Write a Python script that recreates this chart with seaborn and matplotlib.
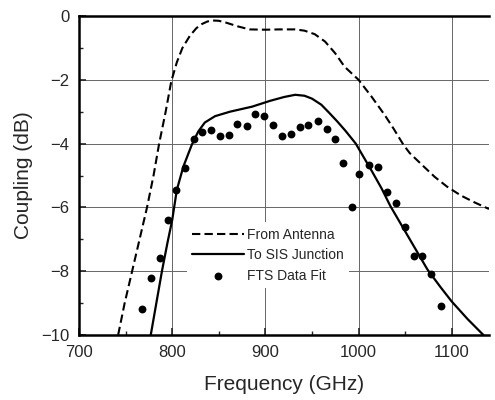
import matplotlib
matplotlib.use('Agg')
from matplotlib import pyplot as plt
from matplotlib.ticker import MultipleLocator
import seaborn as sns

# Coupling from antenna (dashed curve)
antenna_freq = [742, 749, 757, 765, 773, 780, 786, 793, 799, 805, 811, 819, 826, 832,
                838, 843, 850, 858, 871, 883, 900, 915, 932, 942, 953, 964, 975, 985, 1000,
                1014, 1028, 1038, 1048, 1055, 1070, 1082, 1095, 1110, 1125, 1140]
antenna_db = [-10.0, -9.0, -8.0, -7.0, -6.0, -5.0, -4.0, -3.0, -2.05, -1.45, -1.0, -0.62,
              -0.38, -0.25, -0.17, -0.14, -0.15, -0.21, -0.33, -0.42, -0.43, -0.42,
              -0.42, -0.46, -0.57, -0.8, -1.17, -1.59, -2.0, -2.53, -3.1, -3.55, -4.03,
              -4.3, -4.72, -5.05, -5.35, -5.63, -5.85, -6.05]

# Coupling to SIS junction (solid curve)
sis_freq = [777, 783, 789, 795, 800, 805, 812, 821, 828, 835, 846, 862, 886, 905, 920,
            932, 942, 950, 960, 968, 977, 986, 997, 1006, 1015, 1025, 1034, 1049, 1064,
            1074, 1088, 1100, 1117, 1134]
sis_db = [-10.0, -9.0, -8.0, -7.1, -6.4, -5.45, -4.72, -4.04, -3.62, -3.34, -3.14, -3.0,
          -2.84, -2.66, -2.54, -2.47, -2.5, -2.59, -2.78, -3.02, -3.3, -3.6, -4.0, -4.45,
          -4.9, -5.42, -5.95, -6.7, -7.45, -7.95, -8.5, -8.95, -9.5, -10.0]

# FTS measured points
fts_freq = [768, 777, 787, 796, 804, 814, 823, 832, 842, 851, 861, 870, 880, 889, 898,
            908, 918, 928, 937, 946, 956, 966, 975, 983, 993, 1001, 1011, 1021, 1030,
            1040, 1050, 1059, 1068, 1078, 1089]
fts_db = [-9.2, -8.2, -7.6, -6.4, -5.47, -4.75, -3.86, -3.65, -3.57, -3.75, -3.73, -3.39,
          -3.44, -3.07, -3.12, -3.42, -3.77, -3.7, -3.48, -3.43, -3.28, -3.53, -3.85,
          -4.62, -5.99, -4.95, -4.68, -4.74, -5.53, -5.85, -6.6, -7.52, -7.52, -8.1, -9.1]

sns.set_style('ticks')
plt.rcParams['font.family'] = ['Liberation Sans', 'DejaVu Sans']

fig = plt.figure(figsize=(4.95, 4.0), dpi=100)
ax = fig.add_axes([79 / 495, 65 / 400, 410 / 495, 319 / 400])

sns.lineplot(x=antenna_freq, y=antenna_db, ax=ax, color='black', linewidth=1.5,
             linestyle=(0, (4, 2)), label='From Antenna')
sns.lineplot(x=sis_freq, y=sis_db, ax=ax, color='black', linewidth=1.6,
             label='To SIS Junction')
sns.scatterplot(x=fts_freq, y=fts_db, ax=ax, color='black', s=32, edgecolor='black',
                linewidth=0, label='FTS Data Fit', zorder=3)

ax.set_xlim(700, 1140)
ax.set_ylim(-10, 0)
ax.xaxis.set_major_locator(MultipleLocator(100))
ax.xaxis.set_minor_locator(MultipleLocator(50))
ax.yaxis.set_major_locator(MultipleLocator(2))
ax.yaxis.set_minor_locator(MultipleLocator(1))
ax.grid(True, which='major', color='0.4', linewidth=0.7)
ax.set_axisbelow(True)

for side in ['left', 'bottom', 'top']:
    ax.spines[side].set_linewidth(1.8)
    ax.spines[side].set_color('black')
ax.spines['right'].set_visible(False)

ax.tick_params(which='major', direction='in', length=5, width=1.2, labelsize=12, pad=7)
ax.tick_params(which='minor', direction='in', length=3, width=1.0)
ax.tick_params(top=False, right=False)

ax.set_xlabel('Frequency (GHz)', fontsize=15, labelpad=11)
ax.set_ylabel('Coupling (dB)', fontsize=15, labelpad=6)

leg = ax.legend(loc='center left', bbox_to_anchor=(0.263, 0.25), borderaxespad=0,
                fontsize=10, handlelength=3.7, handletextpad=0.2, labelspacing=0.45,
                frameon=True, fancybox=False, borderpad=0.4)
leg.get_frame().set_facecolor('white')
leg.get_frame().set_edgecolor('none')
leg.get_frame().set_alpha(1)

fig.savefig('out.png', dpi=100)
